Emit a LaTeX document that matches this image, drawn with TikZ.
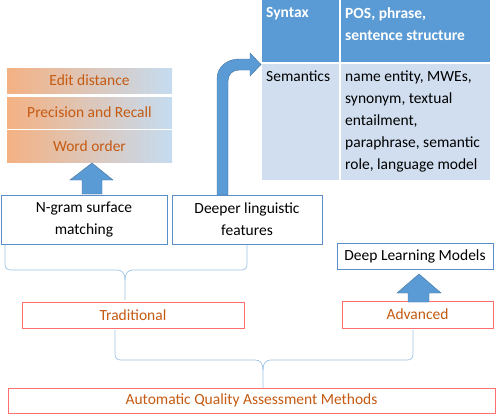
\documentclass[tikz,border=0pt]{standalone}
\usepackage{fontspec}
\setmainfont{Carlito}
\usetikzlibrary{positioning}
\definecolor{headblue}{HTML}{5B9BD5}
\definecolor{cellblue}{HTML}{D0DEEF}
\definecolor{rust}{HTML}{C55A11}
\definecolor{peach}{HTML}{F4B183}
\definecolor{skyblue}{HTML}{C5DCF0}
\definecolor{framered}{HTML}{FF6F6F}
\definecolor{frameblue}{HTML}{5B8EC8}
\definecolor{arrowedge}{HTML}{41719C}
\definecolor{bracecol}{HTML}{9DC3E6}

\begin{document}
\begin{tikzpicture}[x=1pt,y=-1pt,font=\fontsize{15.5}{22}\selectfont,
	metric/.style={rectangle, inner sep=0pt, minimum width=165pt, left color=peach, right color=skyblue, text=rust},
	feature/.style={rectangle, draw=frameblue, fill=white, inner sep=0pt, align=center},
	method/.style={rectangle, draw=framered, fill=white, inner sep=0pt, text=rust},
	cell/.style={anchor=north west, inner sep=0pt, align=left},
	blockarrow/.style={fill=headblue, draw=arrowedge, line width=0.4pt},
	brace/.style={draw=bracecol, line width=0.7pt}]
		\useasboundingbox (0,0) rectangle (498,415);

		% metrics of surface matching
		\node[metric, minimum height=25pt] (edit) at (89.5,80.5) {Edit distance};
		\node[metric, minimum height=31pt] (precision) at (89.5,112.5) {Precision and Recall};
		\node[metric, minimum height=32pt] (order) at (89.5,146) {Word order};

		% table of linguistic features
		\fill[headblue] (262,0) rectangle (339,62);
		\fill[headblue] (341,0) rectangle (490,62);
		\fill[cellblue] (262,64) rectangle (339,180);
		\fill[cellblue] (341,64) rectangle (490,180);
		\node[cell, text=white, font=\fontsize{15.5}{22}\selectfont\bfseries] (syntax) at (266,7) {Syntax};
		\node[cell, text=white, font=\fontsize{15.5}{22}\selectfont\bfseries] (syntaxlist) at (345,7) {POS, phrase,\\sentence structure};
		\node[cell] (semantics) at (266,71) {Semantics};
		\node[cell] (semlist) at (345,71) {name entity, MWEs,\\synonym, textual\\entailment,\\paraphrase, semantic\\role, language model};

		% feature boxes
		\node[feature, minimum width=166pt, minimum height=49pt] (ngram) at (84,219.5) {N-gram surface\\matching};
		\node[feature, minimum width=150pt, minimum height=49pt] (deeper) at (247,219.5) {Deeper linguistic\\features};
		\node[feature, minimum width=156pt, minimum height=26pt] (deep) at (415,256) {Deep Learning Models};

		% methods
		\node[method, minimum width=222pt, minimum height=26pt] (trad) at (133,315) {Traditional};
		\node[method, minimum width=151pt, minimum height=27pt] (adv) at (417.5,314.5) {Advanced};
		\node[method, minimum width=487pt, minimum height=25pt] (auto) at (251.5,400.5) {Automatic Quality Assessment Methods};

		% block arrows
		\draw[blockarrow] (82,194) -- (82,180) -- (70,180) -- (92,163) -- (113,180) -- (102,180) -- (102,194) -- cycle;
		\draw[blockarrow] (408,302) -- (408,293) -- (397,293) -- (419,274) -- (441,293) -- (429,293) -- (429,302) -- cycle;
		\draw[blockarrow] (217,195) -- (217,79) .. controls (217,67) and (227,59) .. (239,59) -- (250,59) -- (250,53)
			-- (261,64.5) -- (250,76) -- (250,70) -- (239,70) .. controls (232,70) and (228,75) .. (228,81) -- (228,195) -- cycle;

		% braces
		\draw[brace] (5,245) -- (5,264) .. controls (5,268) and (7,270) .. (11,270) -- (117,270)
			.. controls (122,270) and (125,273) .. (125,280) -- (125,300);
		\draw[brace] (247,245) -- (247,264) .. controls (247,268) and (245,270) .. (241,270) -- (133,270)
			.. controls (128,270) and (125,273) .. (125,280);
		\draw[brace] (115,330) -- (115,354) .. controls (115,358) and (117,360) .. (121,360) -- (255,360)
			.. controls (260,360) and (263,363) .. (263,370) -- (263,388);
		\draw[brace] (413,330) -- (413,354) .. controls (413,358) and (411,360) .. (407,360) -- (271,360)
			.. controls (266,360) and (263,363) .. (263,370);
	\end{tikzpicture}
\end{document}
